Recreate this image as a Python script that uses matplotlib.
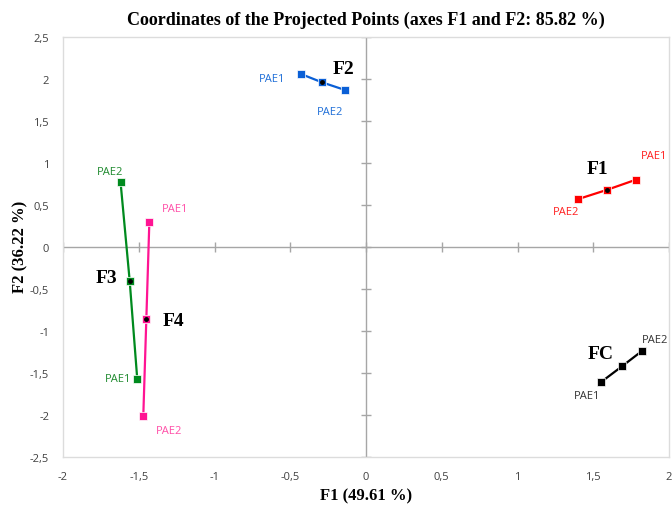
import matplotlib
matplotlib.use("Agg")
import matplotlib.pyplot as plt

# Data: each group has PAE1, centre, PAE2
groups = ["F1", "F2", "F3", "F4", "FC"]
x_vals = {
    "F1": [1.78, 1.59, 1.40],
    "F2": [-0.43, -0.29, -0.14],
    "F3": [-1.51, -1.56, -1.62],
    "F4": [-1.43, -1.45, -1.47],
    "FC": [1.55, 1.69, 1.82],
}
y_vals = {
    "F1": [0.80, 0.68, 0.57],
    "F2": [2.06, 1.96, 1.87],
    "F3": [-1.57, -0.40, 0.77],
    "F4": [0.30, -0.86, -2.01],
    "FC": [-1.61, -1.42, -1.24],
}
colors = {"F1": "#ff0000", "F2": "#0a5fd6", "F3": "#008a1e", "F4": "#ff1493", "FC": "#000000"}
label_colors = {"F1": "#ff2020", "F2": "#1f6fd8", "F3": "#1e8a2e", "F4": "#ff4fa8", "FC": "#333333"}
xticks = [-2, -1.5, -1, -0.5, 0, 0.5, 1, 1.5, 2]
yticks = [-2.5, -2, -1.5, -1, -0.5, 0, 0.5, 1, 1.5, 2, 2.5]

def fmt(v):
    s = ("%g" % v).replace(".", ",")
    return s

fig = plt.figure(figsize=(6.72, 5.06), dpi=100)
ax = fig.add_axes([63/672, 1-458/506, (669-63)/672, (458-38)/506])
ax.set_xlim(-2, 2)
ax.set_ylim(-2.5, 2.5)

for s in ax.spines.values():
    s.set_color("#dcdcdc")
    s.set_linewidth(1.0)

ax.axhline(0, color="#a6a6a6", lw=1.0, zorder=1)
ax.axvline(0, color="#a6a6a6", lw=1.0, zorder=1)
ax.plot([0]*len(yticks), yticks, ls="none", marker="_", ms=6.5, mew=1.0, color="#a6a6a6", zorder=1)
ax.plot(xticks, [0]*len(xticks), ls="none", marker="|", ms=6.5, mew=1.0, color="#a6a6a6", zorder=1)

ax.set_xticks(xticks)
ax.set_yticks(yticks)
ax.set_xticklabels([fmt(v) for v in xticks])
ax.set_yticklabels([fmt(v) for v in yticks])
ax.tick_params(length=0, labelsize=8, labelcolor="#404040", pad=10)
for t in ax.get_xticklabels() + ax.get_yticklabels():
    t.set_fontfamily("Open Sans")

for g in groups:
    xs, ys = x_vals[g], y_vals[g]
    c = colors[g]
    ax.plot(xs, ys, color=c, lw=1.6, zorder=3)
    ax.plot(xs, ys, ls="none", marker="s", ms=6, color=c, mec="white", mew=0.5, zorder=4)
    ax.plot([xs[1]], [ys[1]], ls="none", marker="o", ms=2.5, color="black", zorder=5)

# PAE labels: (group, index, dx, dy, ha, va)
pae = [
    ("F1", 0, 0.12, 0.29, "center", "center", "PAE1"),
    ("F1", 2, -0.08, -0.15, "center", "center", "PAE2"),
    ("F2", 0, -0.1, -0.05, "right", "center", "PAE1"),
    ("F2", 2, -0.1, -0.26, "center", "center", "PAE2"),
    ("F3", 2, -0.07, 0.13, "center", "center", "PAE2"),
    ("F3", 0, -0.04, 0.0, "right", "center", "PAE1"),
    ("F4", 0, 0.17, 0.16, "center", "center", "PAE1"),
    ("F4", 2, 0.17, -0.17, "center", "center", "PAE2"),
    ("FC", 0, -0.09, -0.16, "center", "center", "PAE1"),
    ("FC", 2, 0.09, 0.14, "center", "center", "PAE2"),
]
for g, i, dx, dy, ha, va, txt in pae:
    ax.text(x_vals[g][i] + dx, y_vals[g][i] + dy, txt, color=label_colors[g],
            fontsize=8, ha=ha, va=va, fontfamily="Open Sans", zorder=6)

# Group labels
glabels = [("F1", 1, -0.06, 0.25), ("F2", 1, 0.14, 0.17), ("F3", 1, -0.15, 0.04),
           ("F4", 1, 0.18, -0.02), ("FC", 1, -0.14, 0.15)]
for g, i, dx, dy in glabels:
    ax.text(x_vals[g][i] + dx, y_vals[g][i] + dy, g, fontsize=14, fontweight="bold",
            fontfamily="Liberation Serif", ha="center", va="center", zorder=6)

fig.text(0.5 * (63 + 669) / 672, 1 - 20/506, "Coordinates of the Projected Points (axes F1 and F2: 85.82 %)",
         fontsize=13, fontweight="bold", fontfamily="Liberation Serif", ha="center", va="center")
fig.text(366/672, 1 - 496/506, "F1 (49.61 %)", fontsize=12, fontweight="bold",
         fontfamily="Liberation Serif", ha="center", va="center")
fig.text(20/672, 1 - 247/506, "F2 (36.22 %)", fontsize=12, fontweight="bold",
         fontfamily="Liberation Serif", ha="center", va="center", rotation=90)

fig.savefig("out.png", dpi=100, facecolor="white")
